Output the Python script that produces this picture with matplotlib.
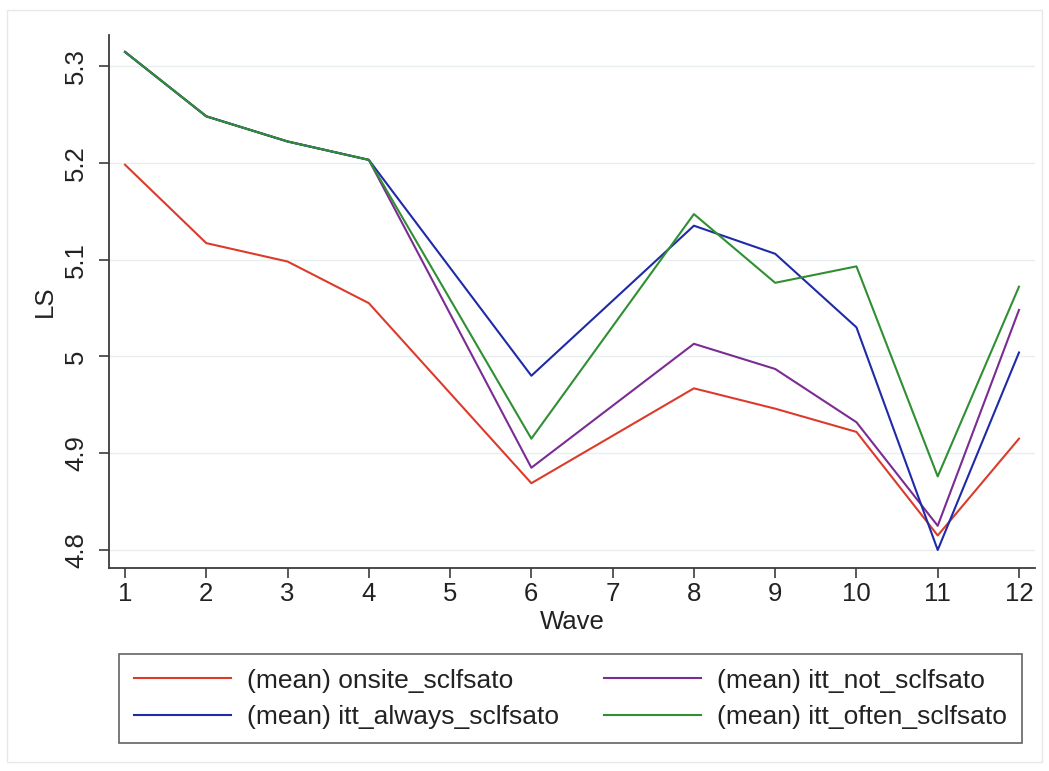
import matplotlib
matplotlib.use("Agg")
import matplotlib.pyplot as plt
from matplotlib.patches import Rectangle
from matplotlib.ticker import FuncFormatter

# ---- data: mean life satisfaction by survey wave ----
waves = [1, 2, 3, 4, 6, 8, 9, 10, 11, 12]
onsite = [5.198, 5.117, 5.098, 5.055, 4.869, 4.967, 4.946, 4.922, 4.815, 4.915]
itt_not = [5.3145, 5.248, 5.222, 5.203, 4.885, 5.013, 4.987, 4.932, 4.825, 5.048]
itt_always = [5.3145, 5.248, 5.222, 5.203, 4.980, 5.135, 5.106, 5.030, 4.800, 5.004]
itt_often = [5.3145, 5.248, 5.222, 5.203, 4.915, 5.147, 5.076, 5.093, 4.876, 5.072]

x_ticks = list(range(1, 13))
y_ticks = [4.8, 4.9, 5.0, 5.1, 5.2, 5.3]

series_labels = [
    "(mean) onsite_sclfsato",
    "(mean) itt_not_sclfsato",
    "(mean) itt_always_sclfsato",
    "(mean) itt_often_sclfsato",
]
RED = "#dc3b2c"
PURPLE = "#7b2c93"
BLUE = "#1f2ba6"
GREEN = "#2f8f32"
AXIS = "#3c3c3c"
GRID = "#e8eef0"

plt.rcParams["font.family"] = ["Liberation Sans", "DejaVu Sans"]
FS = 18.5
LEG_FS = 19

fig = plt.figure(figsize=(10.49, 7.71), dpi=100, facecolor="white")

# faint outer frame around the graph region
fig.patches.append(Rectangle((7 / 1049, 1 - 762 / 771), 1035 / 1049, 752 / 771,
                             transform=fig.transFigure, fill=False,
                             edgecolor="#e4e8ea", linewidth=1.0))

ax = fig.add_axes([109 / 1049, 1 - 568 / 771, 926 / 1049, 533 / 771])
ax.set_facecolor("white")

lw = 1.5
l_on, = ax.plot(waves, onsite, color=RED, lw=lw)
l_not, = ax.plot(waves, itt_not, color=PURPLE, lw=lw)
l_alw, = ax.plot(waves, itt_always, color=BLUE, lw=lw)
l_oft, = ax.plot(waves, itt_often, color=GREEN, lw=lw)

ax.set_xlim(0.803, 12.197)
ax.set_ylim(4.7814, 5.332)
ax.set_xticks(x_ticks)
ax.set_yticks(y_ticks)
ax.yaxis.set_major_formatter(FuncFormatter(lambda v, p: f"{v:g}"))

ax.grid(axis="y", color=GRID, linewidth=1.0)
ax.set_axisbelow(True)
for side in ["top", "right"]:
    ax.spines[side].set_visible(False)
for side in ["left", "bottom"]:
    ax.spines[side].set_color(AXIS)
    ax.spines[side].set_linewidth(1.3)

ax.tick_params(axis="both", colors=AXIS, labelcolor="#222222", length=7,
               width=1.2, labelsize=FS)
ax.tick_params(axis="x", pad=3)
ax.tick_params(axis="y", pad=8, labelrotation=90)
for lab in ax.get_yticklabels():
    lab.set_va("center")

ax.set_xlabel("Wave", fontsize=FS, color="#222222", labelpad=3)
ax.set_ylabel("LS", fontsize=FS, color="#222222", labelpad=5)

# Stata-style legend, filled row by row
leg = fig.legend(
    [l_on, l_alw, l_not, l_oft],
    [series_labels[0], series_labels[2], series_labels[1], series_labels[3]],
    ncol=2, loc="upper left", bbox_to_anchor=(119 / 1049, 1 - 654 / 771),
    borderaxespad=0, fontsize=LEG_FS, frameon=True, fancybox=False,
    handlelength=3.7, handletextpad=0.6, columnspacing=1.7,
    labelspacing=0.47, borderpad=0.55,
)
leg.get_frame().set_edgecolor(AXIS)
leg.get_frame().set_linewidth(1.2)
for t in leg.get_texts():
    t.set_color("#222222")

fig.savefig("out.png", dpi=100, facecolor="white")
